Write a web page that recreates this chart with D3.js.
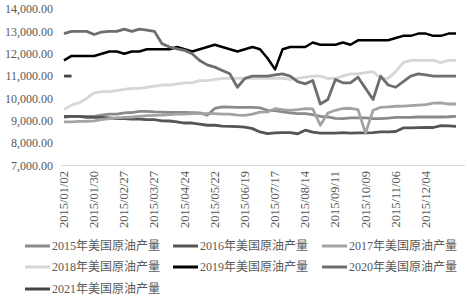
<!DOCTYPE html>
<html>
<head>
<meta charset="utf-8">
<script src="https://cdn.jsdelivr.net/npm/d3@7"></script>
<style>
  body { margin: 0; background: #fff; }
  svg { display: block; }
  text { font-family: "Liberation Serif", "Noto Sans CJK SC", serif; fill: #595959; }
</style>
</head>
<body>
<svg width="467" height="298"></svg>
<script>
// weekly categories, 2015/01/02 .. 2016/01/01
const fmt = d3.timeFormat('%Y/%m/%d');
const weeks = d3.range(53).map(i => fmt(d3.timeDay.offset(new Date(2015, 0, 2), i * 7)));
const tickLabels = ['2015/01/02', '2015/01/30', '2015/02/27', '2015/03/27', '2015/04/24', '2015/05/22',
    '2015/06/19', '2015/07/17', '2015/08/14', '2015/09/11', '2015/10/09', '2015/11/06', '2015/12/04'];
const yTicks = [7000, 8000, 9000, 10000, 11000, 12000, 13000, 14000];

const y2015 = [9150, 9200, 9200, 9200, 9200, 9250, 9300, 9300, 9350, 9370, 9420, 9420, 9400, 9390, 9380, 9370,
    9370, 9360, 9350, 9250, 9550, 9620, 9610, 9600, 9600, 9600, 9580, 9470, 9450, 9400, 9350, 9320, 9320, 9280,
    9200, 9170, 9110, 9100, 9130, 9130, 9130, 9100, 9100, 9120, 9150, 9150, 9150, 9170, 9170, 9170, 9170, 9180, 9200];
const y2016 = [9200, 9200, 9200, 9150, 9150, 9150, 9130, 9100, 9100, 9080, 9070, 9050, 9050, 9000, 8990, 8950,
    8900, 8900, 8850, 8800, 8800, 8760, 8750, 8740, 8720, 8650, 8500, 8430, 8460, 8470, 8470, 8420, 8580, 8490,
    8450, 8450, 8450, 8470, 8450, 8460, 8460, 8470, 8500, 8500, 8520, 8680, 8680, 8690, 8700, 8700, 8780, 8770, 8750];
const y2017 = [8950, 8950, 8970, 8980, 9000, 9050, 9100, 9130, 9150, 9170, 9200, 9230, 9240, 9250, 9280, 9300,
    9300, 9320, 9320, 9320, 9320, 9300, 9300, 9250, 9240, 9300, 9390, 9400, 9540, 9500, 9470, 9500, 9540, 9530,
    8800, 9350, 9470, 9550, 9560, 9500, 8450, 9470, 9600, 9620, 9650, 9660, 9680, 9700, 9720, 9790, 9800, 9750, 9750];
const y2018 = [9500, 9700, 9800, 10000, 10250, 10300, 10300, 10350, 10400, 10450, 10450, 10500, 10550, 10600,
    10600, 10650, 10700, 10700, 10800, 10800, 10850, 10900, 10900, 10900, 10900, 10900, 10900, 10900, 10900, 10900,
    10850, 10900, 10950, 11000, 11000, 10900, 10900, 11000, 11100, 11100, 11150, 11200, 10900, 10900, 11200, 11600,
    11700, 11700, 11700, 11700, 11600, 11700, 11700];
const y2019 = [11700, 11900, 11900, 11900, 11900, 12000, 12100, 12100, 12000, 12100, 12100, 12200, 12200, 12200,
    12200, 12300, 12200, 12100, 12200, 12300, 12400, 12300, 12200, 12100, 12200, 12300, 12200, 11800, 11300, 12200,
    12300, 12300, 12300, 12500, 12400, 12400, 12400, 12500, 12400, 12600, 12600, 12600, 12600, 12600, 12700, 12800,
    12800, 12900, 12900, 12800, 12800, 12900, 12900];
const y2020 = [12900, 13000, 13000, 13000, 12860, 12970, 13000, 13000, 13100, 13000, 13100, 13050, 13000, 12450,
    12300, 12220, 12150, 12000, 11700, 11500, 11400, 11250, 11100, 10500, 10900, 11000, 11000, 11000, 11050, 11100,
    11000, 10750, 10650, 10800, 9750, 9950, 10850, 10700, 10700, 10950, 10450, 9950, 11000, 10600, 10500, 10750,
    11000, 11100, 11050, 11000, 11000, 11000, 11000];
const y2021 = [11000, 11000];

const seriesNames = ['2015年美国原油产量', '2016年美国原油产量', '2017年美国原油产量', '2018年美国原油产量',
    '2019年美国原油产量', '2020年美国原油产量', '2021年美国原油产量'];
const seriesValues = [y2015, y2016, y2017, y2018, y2019, y2020, y2021];
const colors = ['#8a8a8a', '#555555', '#a3a3a3', '#d6d6d6', '#000000', '#6e6e6e', '#454545'];

const svg = d3.select('svg');

const x = d3.scalePoint().domain(weeks).range([64, 456]);
const y = d3.scaleLinear().domain([7000, 14000]).range([165.5, 9]);

// y axis labels
svg.append('g')
    .selectAll('text')
    .data(yTicks)
    .join('text')
    .attr('x', 53)
    .attr('y', d => y(d))
    .attr('dy', '0.35em')
    .attr('text-anchor', 'end')
    .style('font-size', '12px')
    .text(d => d3.format(',.2f')(d));

// baseline
svg.append('line')
    .attr('x1', 61).attr('x2', 465)
    .attr('y1', y(7000)).attr('y2', y(7000))
    .style('stroke', '#d9d9d9')
    .style('stroke-width', 1);

// x labels, rotated
svg.append('g')
    .selectAll('text')
    .data(tickLabels)
    .join('text')
    .attr('transform', d => `translate(${x(d) + 4},171) rotate(-90)`)
    .attr('text-anchor', 'end')
    .style('font-size', '12.5px')
    .text(d => d);

// lines
const line = d3.line()
    .x((d, i) => x(weeks[i]))
    .y(d => y(d));

svg.append('g')
    .selectAll('path')
    .data(seriesValues)
    .join('path')
    .attr('d', line)
    .style('fill', 'none')
    .style('stroke', (d, i) => colors[i])
    .style('stroke-width', (d, i) => i === 4 ? 2.5 : 2.8)
    .style('stroke-linejoin', 'round');

// legend, 3 columns
const legend = svg.append('g')
    .selectAll('g')
    .data(seriesNames)
    .join('g')
    .attr('transform', (d, i) => `translate(${[25, 173, 322][i % 3]},${[246, 267, 289][Math.floor(i / 3)]})`);

legend.append('line')
    .attr('x1', 0).attr('x2', 25)
    .style('stroke', (d, i) => colors[i])
    .style('stroke-width', 3);

legend.append('text')
    .attr('x', 27)
    .attr('dy', '0.35em')
    .style('font-size', '12px')
    .text(d => d);
</script>
</body>
</html>
